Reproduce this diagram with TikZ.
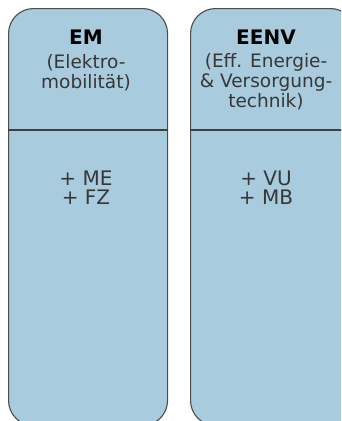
\documentclass[tikz,border=0pt]{standalone}
\usepackage{fontspec}
\setmainfont{DejaVu Sans}
\usepackage{tikz}
\usetikzlibrary{positioning}
\definecolor{colblue}{RGB}{168,203,222}
\definecolor{txtgray}{RGB}{55,55,55}

\begin{document}
\begin{tikzpicture}[
  x=1pt, y=-1pt,
  col/.style={draw=black!70, line width=1.1pt, rounded corners=25pt,
              fill=colblue, anchor=north west, minimum height=417pt, inner sep=0pt},
  divider/.style={draw=black!75, line width=1.2pt},
  title/.style={anchor=base, inner sep=0pt, font=\fontsize{20}{22}\selectfont\bfseries},
  sub/.style={anchor=base, align=center, text=txtgray, inner sep=0pt,
              font=\fontsize{18.5}{20}\selectfont},
  items/.style={anchor=base, align=center, text=txtgray, inner sep=0pt,
                font=\fontsize{20}{19}\selectfont}]
\useasboundingbox (0,0) rectangle (341,421);
\clip (0,0) rectangle (341,421);
\node[col, minimum width=159pt] (em) at (8,8) {};
\node[col, minimum width=165pt] (eenv) at (190,8) {};
\draw[divider] (em.west |- 0,130) -- (em.east |- 0,130);
\draw[divider] (eenv.west |- 0,130) -- (eenv.east |- 0,130);
% titles (base = last line)
\node[title] (emtitle) at (86,44) {EM};
\node[sub] (emsub) at (86,88) {(Elektro-\\mobilität)};
\node[title] (eenvtitle) at (266,44) {EENV};
\node[sub] (eenvsub) at (266,107) {(Eff. Energie-\\\& Versorgung-\\technik)};
% contents
\node[items] (emitems) at (86,204) {+ ME\\+ FZ};
\node[items] (eenvitems) at (266,204) {+ VU\\+ MB};
\end{tikzpicture}
\end{document}
